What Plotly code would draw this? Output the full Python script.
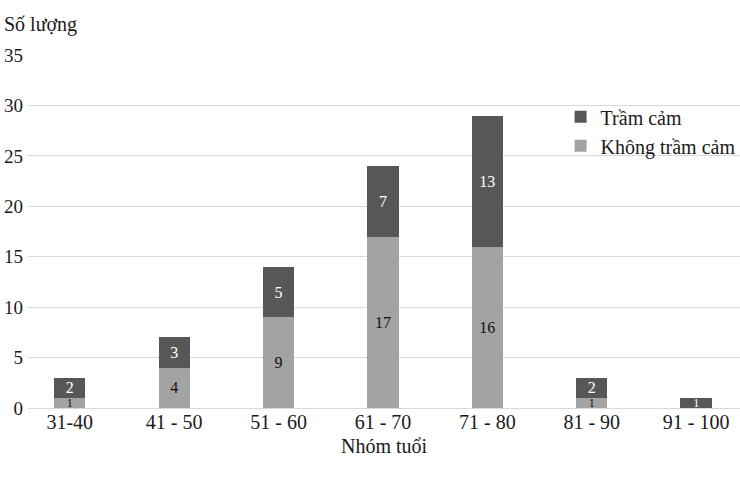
import plotly.graph_objects as go

categories = ["31-40", "41 - 50", "51 - 60", "61 - 70", "71 - 80", "81 - 90", "91 - 100"]
khong_tram_cam = [1, 4, 9, 17, 16, 1, 0]
tram_cam = [2, 3, 5, 7, 13, 2, 1]
y_ticks = [0, 5, 10, 15, 20, 25, 30, 35]

FONT = "Liberation Serif"
DARK = "#575757"
LIGHT = "#a3a3a3"


def label_sizes(vals):
    return [12 if v <= 1 else 16 for v in vals]


fig = go.Figure()
fig.add_trace(go.Bar(
    x=categories, y=khong_tram_cam, name="Không trầm cảm",
    marker=dict(color=LIGHT, line=dict(width=0)),
    text=[str(v) if v else "" for v in khong_tram_cam],
    textposition="inside", insidetextanchor="middle", constraintext="none",
    textangle=0,
    textfont=dict(family=FONT, size=label_sizes(khong_tram_cam), color="#111111"),
    cliponaxis=False,
))
fig.add_trace(go.Bar(
    x=categories, y=tram_cam, name="Trầm cảm",
    marker=dict(color=DARK, line=dict(width=0)),
    text=[str(v) if v else "" for v in tram_cam],
    textposition="inside", insidetextanchor="middle", constraintext="none",
    textangle=0,
    textfont=dict(family=FONT, size=label_sizes(tram_cam), color="#ffffff"),
    cliponaxis=False,
))

fig.update_layout(
    width=740, height=481,
    barmode="stack", bargap=0.7,
    plot_bgcolor="white", paper_bgcolor="white",
    margin=dict(l=28, r=0, t=55, b=73, autoexpand=False),
    font=dict(family=FONT, size=20, color="#1a1a1a"),
    showlegend=True,
    legend=dict(
        x=0.748, y=0.88, xanchor="left", yanchor="top",
        traceorder="reversed", font=dict(family=FONT, size=20),
        bgcolor="rgba(0,0,0,0)", tracegroupgap=0,
    ),
    xaxis=dict(
        range=[-0.4, 6.42], showgrid=False, showline=False, ticks="",
        tickfont=dict(family=FONT, size=20), automargin=False,
        title=dict(text="Nhóm tuổi", font=dict(family=FONT, size=20), standoff=6),
    ),
    yaxis=dict(
        range=[0, 35], tickvals=y_ticks, showgrid=True, gridcolor="#d9d9d9",
        gridwidth=1, zeroline=True, zerolinecolor="#d9d9d9", zerolinewidth=1,
        showline=False, ticks="", tickfont=dict(family=FONT, size=19),
        automargin=False, ticklabelstandoff=4,
    ),
    annotations=[dict(
        text="Số lượng", xref="paper", yref="paper", x=-0.036, y=1.085,
        xanchor="left", yanchor="middle", showarrow=False,
        font=dict(family=FONT, size=20),
    )],
)

fig.write_html("out.html")
